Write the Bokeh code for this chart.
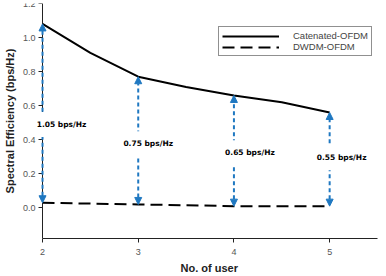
from bokeh.plotting import figure
from bokeh.models import (Range1d, FixedTicker, NumeralTickFormatter, Arrow,
                          NormalHead, ColumnDataSource, Label, Legend, LegendItem,
                          Title)
from bokeh.embed import file_html
from bokeh.resources import INLINE

# Number of users where the two schemes are compared
users = [2, 3, 4, 5]
# DWDM-OFDM spectral efficiency (bps/Hz)
dwdm = [0.03, 0.02, 0.01, 0.01]
# Gain of Catenated-OFDM over DWDM-OFDM (bps/Hz)
gain = [1.05, 0.75, 0.65, 0.55]
gain_labels = ["1.05 bps/Hz", "0.75 bps/Hz", "0.65 bps/Hz", "0.55 bps/Hz"]
# Catenated-OFDM spectral efficiency curve (bps/Hz)
cat_users = [2, 2.5, 3, 3.5, 4, 4.5, 5]
catenated = [1.08, 0.91, 0.77, 0.71, 0.66, 0.62, 0.56]
y_ticks = [0.0, 0.2, 0.4, 0.6, 0.8, 1.0, 1.2]

# axis extents; the frame starts left of the y axis so the
# annotation next to it has room
X_START, X_END = 1.561, 5.5
Y_START, Y_END = -0.18, 1.2

# placement of the gain annotations (data y, pixel x offset)
label_y = [0.49, 0.376, 0.324, 0.294]
label_dx = [19, 10, 16, 12]

BLUE = "#1f78c1"
AXIS = "#222222"

p = figure(width=386, height=276, output_backend="svg", toolbar_location=None,
           x_range=Range1d(X_START, X_END), y_range=Range1d(Y_START, Y_END),
           min_border_left=0, min_border_right=9, min_border_top=3,
           min_border_bottom=20, outline_line_color=None,
           background_fill_color="white", border_fill_color="white")
p.grid.visible = False

r_cat = p.line(cat_users, catenated, line_color="black", line_width=2)
r_dw = p.line(users, dwdm, line_color="black", line_width=2, line_dash="12 6")

# two-headed dashed arrows spanning the gain at each user count
src = ColumnDataSource(dict(x=users, y0=dwdm,
                            y1=[d + g for d, g in zip(dwdm, gain)]))
p.add_layout(Arrow(
    start=NormalHead(size=7, fill_color=BLUE, line_color=BLUE),
    end=NormalHead(size=7, fill_color=BLUE, line_color=BLUE),
    x_start="x", y_start="y0", x_end="x", y_end="y1", source=src,
    line_color=BLUE, line_width=2, line_dash="4 3", level="overlay"))

for ux, ly, dx, txt in zip(users, label_y, label_dx, gain_labels):
    p.add_layout(Label(x=ux, y=ly, x_offset=dx, text=txt,
                       text_align="center", text_baseline="middle",
                       text_font="DejaVu Sans", text_font_style="bold",
                       text_font_size="7.5px", text_color="black",
                       background_fill_color="white", padding=8,
                       level="overlay"))

# axes: y axis pinned at the first user count, x axis line starting there
p.xaxis.ticker = FixedTicker(ticks=users)
p.xaxis.bounds = (users[0], X_END)
p.yaxis.ticker = FixedTicker(ticks=y_ticks)
p.yaxis.formatter = NumeralTickFormatter(format="0.0")
p.yaxis.fixed_location = users[0]
p.yaxis.axis_label = "Spectral Efficiency (bps/Hz)"
for ax in (p.xaxis[0], p.yaxis[0]):
    ax.axis_line_color = AXIS
    ax.major_tick_line_color = AXIS
    ax.major_tick_out = 4
    ax.major_tick_in = 0
    ax.minor_tick_line_color = None
    ax.major_label_text_font = "Liberation Sans"
    ax.major_label_text_font_size = "9px"
    ax.major_label_text_color = "#555555"
    ax.axis_label_text_font = "Liberation Sans"
    ax.axis_label_text_font_style = "bold"
    ax.axis_label_text_font_size = "11px"
    ax.axis_label_text_color = AXIS
p.xaxis.major_label_standoff = 6
p.yaxis.major_label_standoff = 3
p.yaxis.axis_label_standoff = 4

# x axis title, centred under the axis line rather than the whole frame
p.add_layout(Title(text="No. of user", align="left", offset=180, standoff=5,
                   text_font="Liberation Sans", text_font_style="bold",
                   text_font_size="11px", text_color=AXIS), "below")

legend = Legend(items=[LegendItem(label="Catenated-OFDM", renderers=[r_cat]),
                       LegendItem(label="DWDM-OFDM", renderers=[r_dw])],
                location=(218, 182))
legend.border_line_color = AXIS
legend.border_line_width = 1
legend.background_fill_color = "white"
legend.label_text_font = "Liberation Sans"
legend.label_text_font_size = "9.5px"
legend.label_text_color = "#444444"
legend.glyph_width = 57
legend.glyph_height = 10
legend.label_height = 10
legend.label_standoff = 14
legend.padding = 3
legend.spacing = 0
legend.margin = 0
p.add_layout(legend)

open("out.html", "w").write(file_html(p, INLINE))
